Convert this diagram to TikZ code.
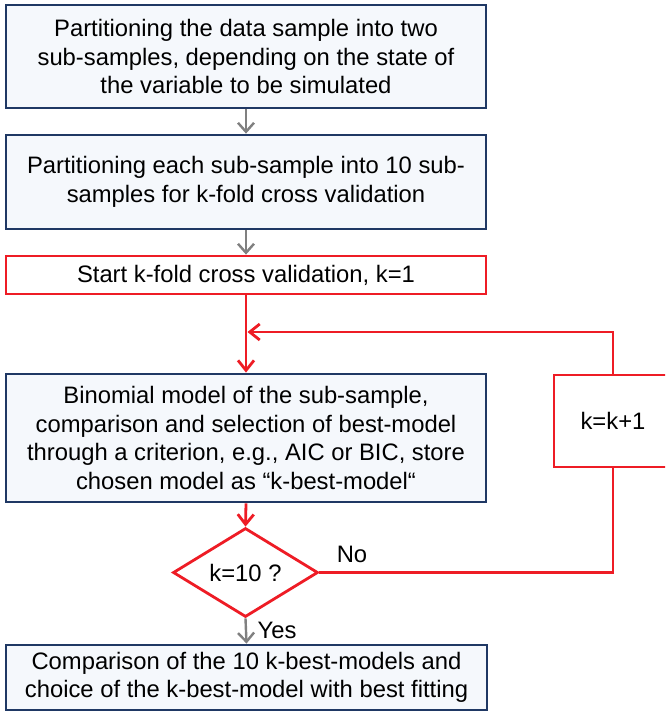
\documentclass[tikz,border=0pt]{standalone}
\usepackage{fontspec}
\setmainfont{Liberation Sans}
\usetikzlibrary{shapes.geometric,arrows.meta}
\definecolor{navy}{HTML}{1F3864}
\definecolor{boxfill}{HTML}{F5F8FC}
\definecolor{redline}{HTML}{EE1C25}
\definecolor{grayarrow}{HTML}{808080}
\tikzset{
  txt/.style={font=\fontsize{23.8}{28.5}\selectfont, text=black, align=center},
  bluebox/.style={txt, draw=navy, fill=boxfill, line width=2.8pt, rectangle, inner sep=0pt, minimum width=480pt},
  redbox/.style={txt, draw=redline, fill=white, line width=2.8pt, rectangle, inner sep=0pt},
  graya/.style={draw=grayarrow, line width=2.4pt, -{Straight Barb[length=9pt,width=16pt]}},
  reda/.style={draw=redline, line width=2.8pt, -{Straight Barb[length=10pt,width=16pt]}},
  redl/.style={draw=redline, line width=2.8pt},
}
\begin{document}
\begin{tikzpicture}[x=1pt,y=-1pt]
\clip (0,0) rectangle (665,713);
\fill[white] (0,0) rectangle (665,713);
\node[bluebox, minimum height=103pt] (b1) at (246,56.5) {Partitioning the data sample into two\\sub-samples, depending on the state of\\the variable to be simulated};
\node[bluebox, minimum height=94pt] (b2) at (246,182) {Partitioning each sub-sample into 10 sub-\\samples for k-fold cross validation};
\node[redbox, minimum width=480pt, minimum height=38pt] (b3) at (246,275) {Start k-fold cross validation, k=1};
\node[bluebox, minimum height=128pt] (b4) at (246,438) {Binomial model of the sub-sample,\\comparison and selection of best-model\\through a criterion, e.g., AIC or BIC, store\\chosen model as “k-best-model“};
\node[redbox, shape=diamond, aspect=1.6, minimum width=145pt, minimum height=89pt] (d) at (245.5,572.5) {k=10 ?};
\node[bluebox, minimum width=481pt, minimum height=65pt] (b5) at (246.5,677.5) {Comparison of the 10 k-best-models and\\choice of the k-best-model with best fitting};
\node[redbox, minimum width=118pt, minimum height=92pt] (kk) at (613,421) {k=k+1};
\coordinate (join) at (246,332);
\coordinate (corner) at (d.east -| kk.south);
\draw[graya] (b1.south) -- (b2.north);
\draw[graya] (b2.south) -- (b3.north);
\draw[reda] (b3.south) -- (b4.north);
\draw[reda] (b4.south) -- (d.north);
\draw[graya] (d.south) -- (b5.north);
\draw[redl] (d.east) -- (corner) -- (kk.south);
\draw[reda] (kk.north) |- ([xshift=1.5pt]join);
\node[txt, anchor=center] (no) at (352,554) {No};
\node[txt, anchor=center] (yes) at (277,630) {Yes};
\end{tikzpicture}
\end{document}
